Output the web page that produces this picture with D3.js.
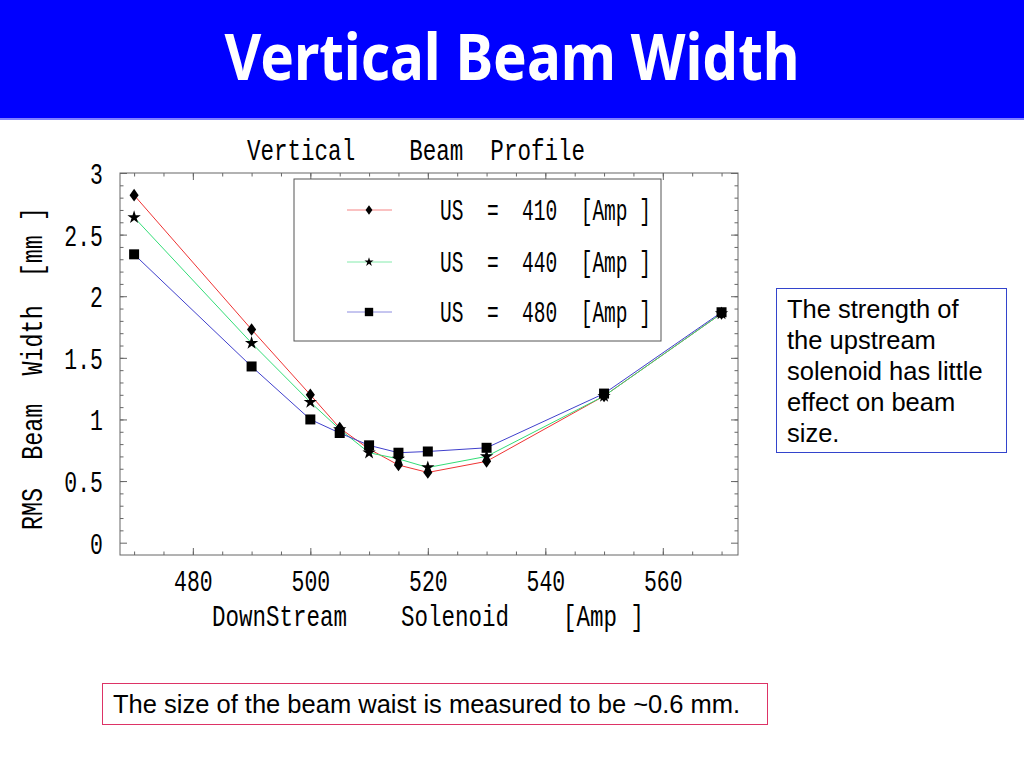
<!DOCTYPE html>
<html>
<head>
<meta charset="utf-8">
<script src="https://cdn.jsdelivr.net/npm/d3@7"></script>
<style>
  body { margin: 0; background: #fff; }
  svg { display: block; }
</style>
</head>
<body>
<svg id="chart" width="1024" height="768"></svg>
<script>
// downstream solenoid current [Amp]
const currents = [470, 490, 500, 505, 510, 515, 520, 530, 550, 570];
// RMS beam width [mm] for each upstream setting
const us410 = [2.82, 1.73, 1.20, 0.93, 0.76, 0.63, 0.57, 0.66, 1.19, 1.86];
const us440 = [2.64, 1.62, 1.14, 0.92, 0.73, 0.68, 0.61, 0.70, 1.19, 1.86];
const us480 = [2.34, 1.43, 1.00, 0.89, 0.79, 0.73, 0.74, 0.77, 1.21, 1.87];
const seriesNames = ["410", "440", "480"];
const xTicks = [480, 500, 520, 540, 560];
const yTicks = [0, 0.5, 1, 1.5, 2, 2.5, 3];
const noteLines = ["The strength of", "the upstream", "solenoid has little", "effect on beam", "size."];
const waistNote = "The size of the beam waist is measured to be ~0.6 mm.";

const mono = "'Liberation Mono', 'DejaVu Sans Mono', monospace";
const sans = "'Liberation Sans', Arial, sans-serif";

let svg = d3.select("#chart");

// header bar
svg.append("rect").attr("x", 0).attr("y", 0).attr("width", 1024).attr("height", 118).attr("fill", "#0000ff");
svg.append("rect").attr("x", 0).attr("y", 118).attr("width", 1024).attr("height", 2).attr("fill", "#8080ff");
svg.append("text")
    .attr("x", 512).attr("y", 80)
    .attr("text-anchor", "middle")
    .attr("textLength", 575).attr("lengthAdjust", "spacingAndGlyphs")
    .style("font-family", "'Noto Sans', sans-serif").style("font-weight", "bold")
    .style("font-size", "64px").style("fill", "#fff")
    .text("Vertical Beam Width");

let pLeft = 120, pRight = 738, pTop = 173, pBottom = 555;

let xscale = d3.scaleLinear().domain([467.6, 572.8]).range([pLeft, pRight]);
let yscale = d3.scaleLinear().domain([-0.1, 3]).range([pBottom, pTop]);

let frameColor = "#666";

let minorX = d3.range(470, 571, 5);
let minorY = d3.range(1, 30).map(d => d / 10);

function styleAxis(g) {
    g.select(".domain").remove();
    g.selectAll("line").attr("stroke", frameColor);
}

// major + minor ticks on all four sides, pointing inward
let chart = svg.append("g");
chart.append("g").attr("transform", "translate(0," + pBottom + ")")
    .call(d3.axisBottom(xscale).tickValues(minorX).tickSize(-3.5).tickFormat(""))
    .call(styleAxis);
chart.append("g").attr("transform", "translate(0," + pTop + ")")
    .call(d3.axisTop(xscale).tickValues(minorX).tickSize(-3.5).tickFormat(""))
    .call(styleAxis);
chart.append("g").attr("transform", "translate(0," + pTop + ")")
    .call(d3.axisTop(xscale).tickValues(xTicks).tickSize(-7).tickFormat(""))
    .call(styleAxis);
chart.append("g").attr("transform", "translate(" + pLeft + ",0)")
    .call(d3.axisLeft(yscale).tickValues(minorY).tickSize(-3.5).tickFormat(""))
    .call(styleAxis);
chart.append("g").attr("transform", "translate(" + pRight + ",0)")
    .call(d3.axisRight(yscale).tickValues(minorY).tickSize(-3.5).tickFormat(""))
    .call(styleAxis);
chart.append("g").attr("transform", "translate(" + pRight + ",0)")
    .call(d3.axisRight(yscale).tickValues(yTicks).tickSize(-7).tickFormat(""))
    .call(styleAxis);

let xAxis = chart.append("g").attr("transform", "translate(0," + pBottom + ")")
    .call(d3.axisBottom(xscale).tickValues(xTicks).tickSizeInner(-7).tickSizeOuter(0).tickPadding(15))
    .call(styleAxis);
xAxis.selectAll("text")
    .attr("transform", "scale(0.74,1)")
    .style("font-family", mono).style("font-size", "29px").style("fill", "#000");

let yAxis = chart.append("g").attr("transform", "translate(" + pLeft + ",0)")
    .call(d3.axisLeft(yscale).tickValues(yTicks).tickSizeInner(-7).tickSizeOuter(0).tickFormat(d => String(d)))
    .call(styleAxis);
yAxis.selectAll("text")
    .attr("x", -17 / 0.74).attr("dy", "0.36em")
    .attr("transform", "scale(0.74,1)")
    .style("font-family", mono).style("font-size", "29px").style("fill", "#000");

// frame
chart.append("rect")
    .attr("x", pLeft).attr("y", pTop)
    .attr("width", pRight - pLeft).attr("height", pBottom - pTop)
    .attr("fill", "none").attr("stroke", frameColor).attr("stroke-width", 1);

// titles
chart.append("text")
    .attr("x", 247).attr("y", 160)
    .attr("textLength", 338).attr("lengthAdjust", "spacingAndGlyphs")
    .style("font-family", mono).style("font-size", "29px").style("white-space", "pre")
    .text("Vertical    Beam  Profile");

chart.append("text")
    .attr("x", 212).attr("y", 626)
    .attr("textLength", 432).attr("lengthAdjust", "spacingAndGlyphs")
    .style("font-family", mono).style("font-size", "29px").style("white-space", "pre")
    .text("DownStream    Solenoid    [Amp ]");

chart.append("text")
    .attr("transform", "translate(42,530) rotate(-90)")
    .attr("textLength", 323).attr("lengthAdjust", "spacingAndGlyphs")
    .style("font-family", mono).style("font-size", "29px").style("white-space", "pre")
    .text("RMS  Beam  Width  [mm ]");

// data series
let series = [
    { name: seriesNames[0], values: us410, color: "#ee3333", symbol: d3.symbolDiamond, size: 46, legendSize: 26 },
    { name: seriesNames[1], values: us440, color: "#33dd77", symbol: d3.symbolStar, size: 55, legendSize: 26 },
    { name: seriesNames[2], values: us480, color: "#4040cc", symbol: d3.symbolSquare, size: 100, legendSize: 70 }
];

let line = d3.line()
    .x(d => xscale(d[0]))
    .y(d => yscale(d[1]));

series.forEach(function (s) {
    let pts = currents.map((c, i) => [c, s.values[i]]);
    chart.append("path")
        .datum(pts)
        .attr("d", line)
        .attr("fill", "none")
        .attr("stroke", s.color)
        .attr("stroke-width", 1);
});

series.forEach(function (s) {
    let pts = currents.map((c, i) => [c, s.values[i]]);
    chart.selectAll(null).data(pts).enter().append("path")
        .attr("d", d3.symbol().type(s.symbol).size(s.size))
        .attr("transform", d => "translate(" + xscale(d[0]) + "," + yscale(d[1]) + ")" + (s.symbol === d3.symbolDiamond ? " scale(1.25,1)" : ""))
        .attr("fill", "#000");
});

// legend
let legend = chart.append("g");
legend.append("rect")
    .attr("x", 294).attr("y", 179).attr("width", 367).attr("height", 162)
    .attr("fill", "#fff").attr("stroke", "#555").attr("stroke-width", 1);

let rowY = [210, 262, 312];
series.forEach(function (s, i) {
    legend.append("line")
        .attr("x1", 347).attr("x2", 392)
        .attr("y1", rowY[i]).attr("y2", rowY[i])
        .attr("stroke", s.color).attr("stroke-width", 1).attr("stroke-opacity", 0.6);
    legend.append("path")
        .attr("d", d3.symbol().type(s.symbol).size(s.legendSize))
        .attr("transform", "translate(369," + rowY[i] + ")" + (s.symbol === d3.symbolDiamond ? " scale(1.25,1)" : ""))
        .attr("fill", "#000");
    legend.append("text")
        .attr("x", 440).attr("y", rowY[i] + 10)
        .attr("textLength", 211).attr("lengthAdjust", "spacingAndGlyphs")
        .style("font-family", mono).style("font-size", "29px").style("white-space", "pre")
        .text("US  =  " + s.name + "  [Amp ]");
});

// note boxes
svg.append("rect")
    .attr("x", 776.5).attr("y", 288.5).attr("width", 230).attr("height", 164)
    .attr("fill", "#fff").attr("stroke", "#3344cc").attr("stroke-width", 1);
svg.selectAll("text.note").data(noteLines).enter().append("text")
    .attr("class", "note")
    .attr("x", 787)
    .attr("y", (d, i) => 318 + i * 31)
    .style("font-family", sans).style("font-size", "25.5px").style("fill", "#000")
    .text(d => d);

svg.append("rect")
    .attr("x", 102.5).attr("y", 683.5).attr("width", 665).attr("height", 41)
    .attr("fill", "#fff").attr("stroke", "#dd3366").attr("stroke-width", 1);
svg.append("text")
    .attr("x", 113).attr("y", 713)
    .style("font-family", sans).style("font-size", "25.5px").style("fill", "#000")
    .text(waistNote);
</script>
</body>
</html>
